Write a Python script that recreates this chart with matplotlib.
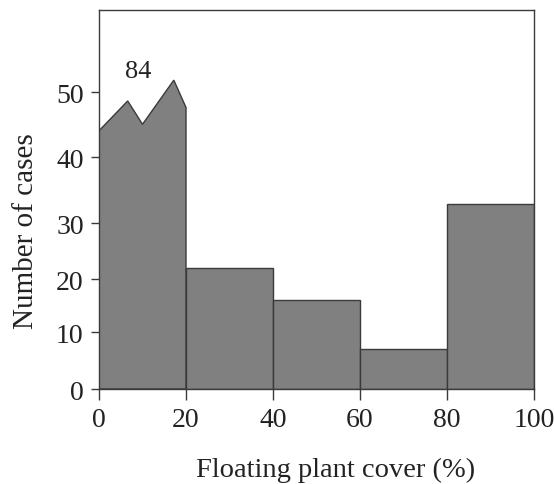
import numpy as np
import matplotlib.pyplot as plt

# histogram of floating plant cover, 20 % classes
bin_edges = [0, 20, 40, 60, 80, 100]
counts = [84, 22, 16, 7, 33]

# the first class is off the scale: its top is drawn as a broken zigzag
break_x = [0, 6.6, 10, 17.2, 20]
break_y = [44.1, 48.7, 45.1, 51.9, 47.7]

y_ticks = [0, 10, 20, 30, 40, 50]
x_ticks = [0, 20, 40, 60, 80, 100]

# the printed axis is not evenly spaced; map values onto it piecewise
y_vals = np.array([-10, 0, 10, 20, 30, 40, 50, 100])
y_span = np.array([-56.7, 0, 56.7, 110, 165.7, 231.7, 296.7, 621.7])

def fwd(v):
    return np.interp(v, y_vals, y_span)

def inv(p):
    return np.interp(p, y_span, y_vals)

plt.rcParams['font.family'] = ['Liberation Serif', 'DejaVu Serif']

fill_c = '#808080'
edge_c = '#3a3a3a'

fig = plt.figure(figsize=(5.54, 4.85), dpi=100)
ax = fig.add_axes([99/554, 1 - 390/485, (534 - 99)/554, (390 - 11)/485])
ax.set_yscale('function', functions=(fwd, inv))

# first class with the broken top
px = [break_x[0]] + break_x + [break_x[-1]]
py = [0] + break_y + [0]
ax.fill(px, py, fc=fill_c, ec=edge_c, lw=1.0, zorder=2)
ax.text((bin_edges[0] + bin_edges[1]) / 2 - 1, 53.3, str(counts[0]),
        ha='center', va='center', fontsize=19, color='#222222')

# remaining classes
lefts = bin_edges[1:-1]
ax.bar(lefts, counts[1:], width=np.diff(bin_edges)[1:], align='edge',
       color=fill_c, edgecolor=edge_c, linewidth=1.0, zorder=2)

ax.set_xlim(0, 100)
ax.set_ylim(0, 62.7)
ax.set_xticks(x_ticks)
ax.set_yticks(y_ticks)
ax.minorticks_off()

for s in ax.spines.values():
    s.set_color(edge_c)
    s.set_linewidth(1.0)

ax.tick_params(axis='x', direction='out', length=8, width=1.0, color=edge_c,
               labelsize=20, pad=5, labelcolor='#222222')
ax.tick_params(axis='y', direction='out', length=6, width=1.0, color=edge_c,
               labelsize=20, pad=5, labelcolor='#222222')

ax.set_xlabel('Floating plant cover (%)', fontsize=20.5, labelpad=18, color='#222222')
ax.set_ylabel('Number of cases', fontsize=21, labelpad=12, color='#222222')
ax.xaxis.label.set_x(0.543)
ax.yaxis.label.set_y(0.42)

fig.savefig('out.png', dpi=100)
